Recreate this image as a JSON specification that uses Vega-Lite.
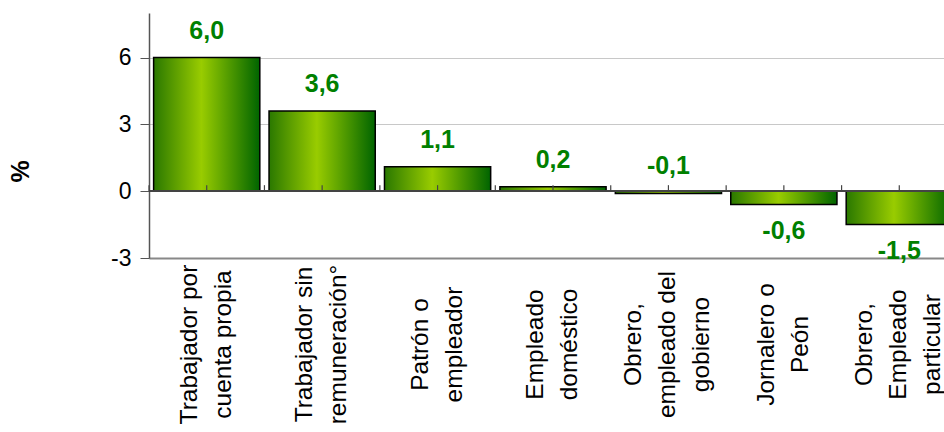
{
  "$schema": "https://vega.github.io/schema/vega-lite/v6.json",
  "autosize": "none",
  "width": 795,
  "height": 245,
  "padding": {"left": 149, "top": 13, "right": 0, "bottom": 174},
  "background": "white",
  "data": {
    "values": [
      {"cat": "Trabajador por\ncuenta propia", "v": 6.0},
      {"cat": "Trabajador sin\nremuneración°", "v": 3.6},
      {"cat": "Patrón o\nempleador", "v": 1.1},
      {"cat": "Empleado\ndoméstico", "v": 0.2},
      {"cat": "Obrero,\nempleado del\ngobierno", "v": -0.1},
      {"cat": "Jornalero o\nPeón", "v": -0.6},
      {"cat": "Obrero,\nEmpleado\nparticular", "v": -1.5}
    ]
  },
  "encoding": {
    "x": {
      "field": "cat",
      "type": "nominal",
      "sort": null,
      "scale": {"range": [0, 808], "paddingInner": 0.08, "paddingOuter": 0.04},
      "axis": {
        "title": null,
        "orient": "bottom",
        "labelExpr": "split(datum.label, '\\n')",
        "labelAngle": -90,
        "labelAlign": "center",
        "labelBaseline": "middle",
        "labelPadding": 86,
        "labelLineHeight": 34,
        "labelOffset": {"condition": {"test": "length(split(datum.value, '\\n')) == 3", "value": -34}, "value": -17},
        "labelFontSize": 24.5,
        "labelFont": "Liberation Sans",
        "labelColor": "#000000",
        "labelLimit": 400,
        "labelOverlap": false,
        "ticks": false,
        "domainColor": "#888888",
        "domainWidth": 2,
        "grid": false
      }
    }
  },
  "layer": [
    {
      "mark": {"type": "rule", "color": "#000000", "opacity": 0},
      "encoding": {
        "y": {
          "field": "v",
          "type": "quantitative",
          "scale": {"domain": [-3, 8], "nice": false, "zero": false},
          "axis": {
            "values": [-3, 0, 3, 6],
            "format": "d",
            "title": "%",
            "titleFont": "Liberation Sans",
            "titleFontSize": 25,
            "titleFontWeight": "bold",
            "titleColor": "#000000",
            "titleAngle": 270,
            "titleX": -129,
            "titleY": 158,
            "titleAlign": "center",
            "titleBaseline": "middle",
            "labelFont": "Liberation Sans",
            "labelFontSize": 23,
            "labelColor": "#000000",
            "labelPadding": 9,
            "tickSize": 9,
            "tickColor": "#555555",
            "domainColor": "#555555",
            "domainWidth": 1.5,
            "grid": true,
            "gridColor": "#c8c8c8",
            "gridWidth": 1
          }
        }
      }
    },
    {
      "mark": {
        "type": "bar",
        "stroke": "#000000",
        "strokeWidth": 1.5,
        "fill": {
          "gradient": "linear",
          "x1": 0, "y1": 0, "x2": 1, "y2": 0,
          "stops": [
            {"offset": 0, "color": "#2a7800"},
            {"offset": 0.45, "color": "#99cc00"},
            {"offset": 1, "color": "#006400"}
          ]
        }
      },
      "encoding": {
        "y": {"field": "v", "type": "quantitative"},
        "y2": {"datum": 0}
      }
    },
    {
      "mark": {"type": "rule", "color": "#444444", "strokeWidth": 1.2},
      "encoding": {"x": null, "y": {"datum": 0}}
    },
    {
      "mark": {"type": "rule", "color": "#444444", "strokeWidth": 1.2},
      "encoding": {"y": {"datum": 0}, "y2": {"datum": 0.27}}
    },
    {
      "mark": {"type": "rule", "color": "#444444", "strokeWidth": 1.2, "xOffset": -57.7},
      "encoding": {"y": {"datum": 0}, "y2": {"datum": 0.27}}
    },
    {
      "transform": [{"filter": "datum.v > -0.3"}],
      "mark": {"type": "text", "dy": -27, "baseline": "middle", "align": "center", "font": "Liberation Sans", "fontSize": 25, "fontWeight": "bold", "color": "#008000"},
      "encoding": {
        "y": {"field": "v", "type": "quantitative"},
        "text": {"field": "v", "type": "quantitative", "format": ".1f"}
      }
    },
    {
      "transform": [{"filter": "datum.v <= -0.3"}],
      "mark": {"type": "text", "dy": 26, "baseline": "middle", "align": "center", "font": "Liberation Sans", "fontSize": 25, "fontWeight": "bold", "color": "#008000"},
      "encoding": {
        "y": {"field": "v", "type": "quantitative"},
        "text": {"field": "v", "type": "quantitative", "format": ".1f"}
      }
    }
  ],
  "config": {
    "view": {"stroke": null},
    "locale": {
      "number": {"decimal": ",", "thousands": ".", "grouping": [3], "currency": ["", " €"], "minus": "-"}
    }
  }
}
